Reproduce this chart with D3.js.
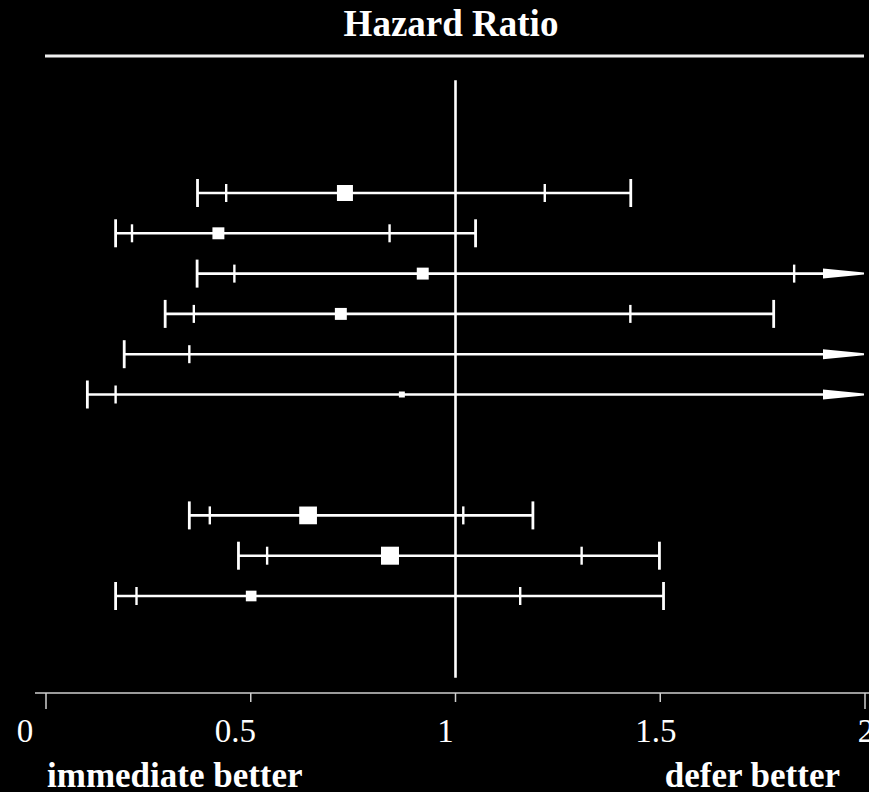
<!DOCTYPE html>
<html>
<head>
<meta charset="utf-8">
<script src="https://cdn.jsdelivr.net/npm/d3@7/dist/d3.min.js"></script>
<style>
  html, body { margin: 0; padding: 0; background: #000; }
  svg { display: block; }
</style>
</head>
<body>
<script>
// Forest plot of hazard ratios: two groups of studies.
const slots    = ["A1", "A2", "A3", "A4", "A5", "A6", "gap1", "gap2", "B1", "B2", "B3"];
const rowKeys  = ["A1", "A2", "A3", "A4", "A5", "A6", "B1", "B2", "B3"];
const estimate = [0.730, 0.421, 0.920, 0.720, 2.40, 0.869, 0.640, 0.840, 0.501];
const outerLo  = [0.370, 0.170, 0.369, 0.291, 0.191, 0.101, 0.350, 0.470, 0.170];
const innerLo  = [0.440, 0.210, 0.460, 0.361, 0.350, 0.170, 0.400, 0.540, 0.221];
const innerHi  = [1.218, 0.839, 1.827, 1.427, 3.80, 4.20, 1.019, 1.308, 1.158];
const outerHi  = [1.428, 1.049, 2.90, 1.777, 5.10, 6.80, 1.189, 1.498, 1.508];
const weight   = [79, 44, 44, 44, 0, 11, 97, 100, 35];
const tickValues = [0, 0.5, 1, 1.5, 2];
const tickLabels = ["0", "0.5", "1", "1.5", "2"];
const title = "Hazard Ratio";
const leftNote = "immediate better";
const rightNote = "defer better";

const W = 869, H = 792;
const serif = "'Liberation Serif', 'Times New Roman', serif";

const svg = d3.select("body").append("svg")
  .attr("width", W).attr("height", H)
  .style("background", "#000");

const x = d3.scaleLinear().domain([0, 2]).range([46, 865]);
const xLabel = d3.scaleLinear().domain([0, 2]).range([25, 866]);
const y = d3.scalePoint().domain(slots).range([193, 596]);
const size = d3.scaleSqrt().domain([0, 100]).range([0, 18]);

const rows = rowKeys.map((k, i) => ({
  key: k, est: estimate[i], olo: outerLo[i], ilo: innerLo[i],
  ihi: innerHi[i], ohi: outerHi[i], w: weight[i]
}));

// Title and rule beneath it
svg.append("text")
  .attr("x", 451).attr("y", 36)
  .attr("text-anchor", "middle")
  .attr("font-family", serif).attr("font-weight", "bold")
  .attr("font-size", 37).attr("fill", "#fff")
  .text(title);
svg.append("line")
  .attr("x1", 45).attr("x2", 864).attr("y1", 56).attr("y2", 56)
  .attr("stroke", "#f0f0f0").attr("stroke-width", 3);

// Line of no effect
const step = y.step();
svg.append("line")
  .attr("x1", x(1)).attr("x2", x(1))
  .attr("y1", y(slots[0]) - 2.8 * step)
  .attr("y2", y(slots[slots.length - 1]) + 2.03 * step)
  .attr("stroke", "#fff").attr("stroke-width", 2.6);

// Study rows
const xMax = x.domain()[1];
const arrowLen = 41, arrowHalf = 5;
const g = svg.append("g");
const row = g.selectAll("g.row").data(rows).join("g")
  .attr("class", "row")
  .attr("transform", d => `translate(0,${y(d.key)})`);

row.append("line")
  .attr("x1", d => x(d.olo))
  .attr("x2", d => d.ohi > xMax ? x(xMax) - arrowLen + 1 : x(d.ohi))
  .attr("stroke", "#fff").attr("stroke-width", 2.6);

// outer interval caps
row.append("line").filter(d => d.olo >= 0)
  .attr("x1", d => x(d.olo)).attr("x2", d => x(d.olo))
  .attr("y1", -14).attr("y2", 14)
  .attr("stroke", "#fff").attr("stroke-width", 2.8);
row.filter(d => d.ohi <= xMax).append("line")
  .attr("x1", d => x(d.ohi)).attr("x2", d => x(d.ohi))
  .attr("y1", -14).attr("y2", 14)
  .attr("stroke", "#fff").attr("stroke-width", 2.8);

// inner interval ticks
row.append("line")
  .attr("x1", d => x(d.ilo)).attr("x2", d => x(d.ilo))
  .attr("y1", -9).attr("y2", 9)
  .attr("stroke", "#fff").attr("stroke-width", 2.4);
row.filter(d => d.ihi <= xMax).append("line")
  .attr("x1", d => x(d.ihi)).attr("x2", d => x(d.ihi))
  .attr("y1", -9).attr("y2", 9)
  .attr("stroke", "#fff").attr("stroke-width", 2.4);

// arrows for intervals running past the axis
row.filter(d => d.ohi > xMax).append("path")
  .attr("d", () => {
    const xe = x(xMax) - 1, xb = xe - arrowLen;
    return `M${xb},${-arrowHalf}L${xe},-1L${xe},1L${xb},${arrowHalf}Z`;
  })
  .attr("fill", "#fff");

// point estimates, sized by weight
row.filter(d => d.est <= xMax && d.w > 0).append("rect")
  .attr("x", d => x(d.est) - size(d.w) / 2)
  .attr("y", d => -size(d.w) / 2)
  .attr("width", d => size(d.w))
  .attr("height", d => size(d.w))
  .attr("fill", "#fff");

// Axis
const axisY = 693;
svg.append("line")
  .attr("x1", 35).attr("x2", W).attr("y1", axisY).attr("y2", axisY)
  .attr("stroke", "#cfcfcf").attr("stroke-width", 1.5);
svg.selectAll("line.tick").data(tickValues).join("line")
  .attr("class", "tick")
  .attr("x1", d => x(d)).attr("x2", d => x(d))
  .attr("y1", axisY)
  .attr("y2", (d, i) => axisY + (i === 0 || i === tickValues.length - 1 ? 16 : 9))
  .attr("stroke", "#cfcfcf").attr("stroke-width", 1.5);
svg.selectAll("text.tlabel").data(tickValues).join("text")
  .attr("class", "tlabel")
  .attr("x", d => xLabel(d)).attr("y", 742)
  .attr("text-anchor", "middle")
  .attr("font-family", serif).attr("font-size", 33)
  .attr("fill", "#fff")
  .text((d, i) => tickLabels[i]);

// Direction notes
svg.append("text")
  .attr("x", 47).attr("y", 787)
  .attr("font-family", serif).attr("font-weight", "bold")
  .attr("font-size", 35).attr("fill", "#fff")
  .text(leftNote);
svg.append("text")
  .attr("x", 840).attr("y", 787)
  .attr("text-anchor", "end")
  .attr("font-family", serif).attr("font-weight", "bold")
  .attr("font-size", 35).attr("fill", "#fff")
  .text(rightNote);
</script>
</body>
</html>
